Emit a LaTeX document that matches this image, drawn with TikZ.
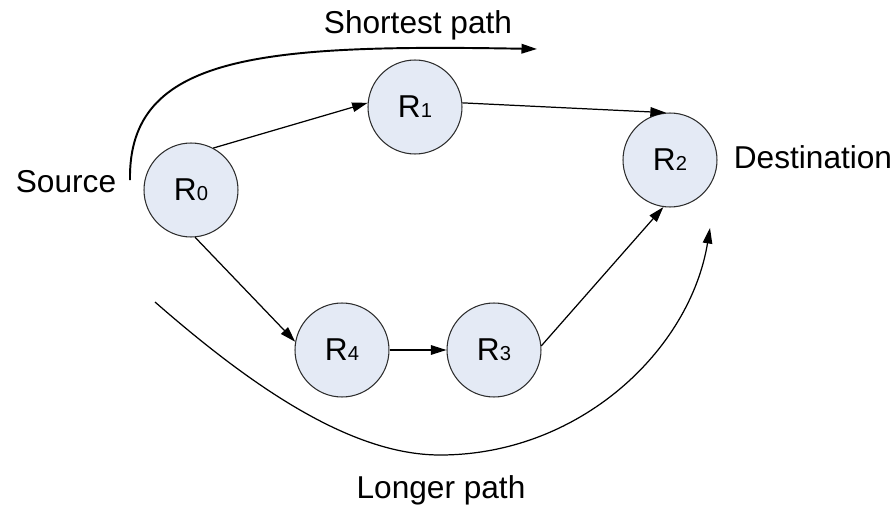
\documentclass[tikz,border=0pt]{standalone}
\usepackage{fontspec}
\setmainfont{Liberation Sans}
\usetikzlibrary{arrows.meta}
\definecolor{routerfill}{RGB}{228,234,245}
\definecolor{routerline}{RGB}{45,45,45}
\newcommand{\router}[1]{R{\fontsize{11.5}{12}\selectfont #1}}

\begin{document}
\begin{tikzpicture}[
      x=0.02cm, y=-0.02cm,
      font=\fontsize{18}{21}\selectfont,
      router/.style={circle, draw=routerline, fill=routerfill, line width=0.6pt,
        minimum size=1.88cm, inner sep=0pt},
      arrow/.style={-{Triangle[length=3.1mm, width=1.9mm]}, line width=0.7pt}
    ]
    \useasboundingbox (0,0) rectangle (894,507);
    \node[router] (r0) at (191,190) {\router{0}};
    \node[router] (r1) at (415,107) {\router{1}};
    \node[router] (r2) at (670,160) {\router{2}};
    \node[router] (r4) at (342,350) {\router{4}};
    \node[router] (r3) at (494,350) {\router{3}};
    \node (source) at (66,182) {Source};
    \node (dest) at (813,157) {Destination};
    \node (shortest) at (418,25) {Shortest path};
    \node (longer) at (441,490) {Longer path};
    \coordinate (short-start) at (130,180);
    \coordinate (short-end) at (537,49);
    \coordinate (long-start) at (155,302);
    \coordinate (long-bottom) at (440,455);
    \coordinate (long-end) at (710,228);
    \draw[arrow] (r0.62) -- (r1.175);
    \draw[arrow] (r1.5) -- (r2.95);
    \draw[arrow] (r0.275) -- (r4.170);
    \draw[arrow] (r4) -- (r3);
    \draw[arrow] (r3.5) -- (r2.262);
    \draw[arrow, line width=1.1pt] (short-start) .. controls (128,55) and (260,44) .. (short-end);
    \draw[arrow] (long-start) .. controls (250,385) and (350,455) .. (long-bottom)
      .. controls (580,455) and (690,350) .. (long-end);
  \end{tikzpicture}
\end{document}
